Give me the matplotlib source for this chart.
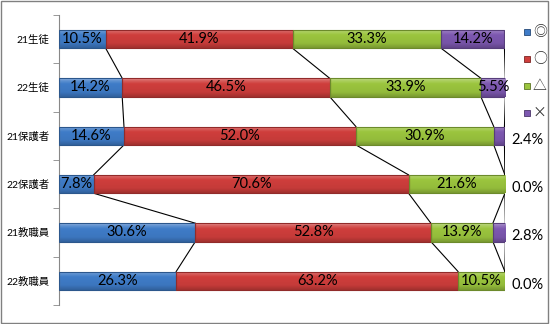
import numpy as np
import matplotlib.pyplot as plt
import matplotlib.colors as mcolors
from matplotlib.patches import Rectangle

plt.rcParams['font.family'] = ['Lato', 'Noto Sans CJK JP', 'DejaVu Sans']

groups = ['21生徒', '22生徒', '21保護者', '22保護者', '21教職員', '22教職員']
series = ['◎', '○', '△', '×']
double_circle = [10.5, 14.2, 14.6, 7.8, 30.6, 26.3]
circle = [41.9, 46.5, 52.0, 70.6, 52.8, 63.2]
triangle = [33.3, 33.9, 30.9, 21.6, 13.9, 10.5]
cross = [14.2, 5.5, 2.4, 0.0, 2.8, 0.0]
colors = ['#3f7cc8', '#cf3e3c', '#9bc53e', '#7d58b0']

values = np.array([double_circle, circle, triangle, cross]).T
cum = np.cumsum(values, axis=1)
bar_h = 0.38


def shade(c, f):
    rgb = np.array(mcolors.to_rgb(c))
    if f > 1:
        return tuple(rgb + (1 - rgb) * (f - 1))
    return tuple(rgb * f)


def gradient_bar(ax, left, y, width, color):
    # glossy fill: light top edge, base colour in the middle, darker bottom
    stops = [0.0, 0.12, 0.3, 0.75, 1.0]
    facs = [1.45, 1.18, 1.0, 0.95, 0.78]
    t = np.linspace(0, 1, 40)
    f = np.interp(t, stops, facs)
    img = np.array([[shade(color, v)] for v in f])
    rect = Rectangle((left, y - bar_h / 2), width, bar_h,
                     facecolor='none', edgecolor=shade(color, 0.7), lw=0.8, zorder=3)
    ax.add_patch(rect)
    im = ax.imshow(img, extent=[left, left + width, y + bar_h / 2, y - bar_h / 2],
                   aspect='auto', interpolation='bilinear', zorder=2)
    im.set_clip_path(rect)


fig = plt.figure(figsize=(5.5, 3.24), dpi=100)
ax = fig.add_axes([0.107, 0.059, 0.811, 0.895])

for i in range(len(groups)):
    left = 0
    for k in range(len(series)):
        w = values[i, k]
        if w > 0:
            gradient_bar(ax, left, i, w, colors[k])
        if w >= 4:
            ax.text(left + w / 2, i, f'{w:.1f}%', ha='center', va='center',
                    fontsize=10.5, color='black', zorder=5)
        elif k == 3:
            ax.text(101.5, i + 0.08, f'{w:.1f}%', ha='left', va='center',
                    fontsize=10.5, color='black', clip_on=False, zorder=5)
        left += w

# series lines between neighbouring bars
for i in range(len(groups) - 1):
    for k in range(len(series)):
        ax.plot([cum[i, k], cum[i + 1, k]], [i + bar_h / 2, i + 1 - bar_h / 2],
                color='black', lw=0.8, zorder=1)

ax.set_xlim(0, 100)
ax.set_ylim(len(groups) - 0.5, -0.5)
ax.set_yticks(range(len(groups)))
ax.set_yticklabels(groups, fontsize=7.5)
ax.set_yticks(np.arange(-0.5, len(groups), 1), minor=True)
ax.tick_params(axis='y', which='major', length=0, pad=7)
ax.tick_params(axis='y', which='minor', length=4, color='#888888')
ax.set_xticks([])
for s in ['top', 'right', 'bottom']:
    ax.spines[s].set_visible(False)
ax.spines['left'].set_color('#888888')

# legend on the right
for j, (name, c) in enumerate(zip(series, colors)):
    yy = 1 - (32 + 27 * j) / 324
    fig.patches.append(Rectangle((524 / 550, yy - 3 / 324), 6 / 550, 6 / 324,
                                 transform=fig.transFigure, facecolor=c,
                                 edgecolor=shade(c, 0.6), lw=0.6))
    fig.text(533 / 550, yy, name, fontsize=10, va='center', ha='left',
             family=['Noto Sans CJK JP', 'DejaVu Sans'], color='#333333')

fig.patches.append(Rectangle((0.002, 0.003), 0.995, 0.993, transform=fig.transFigure,
                             facecolor='none', edgecolor='#808080', lw=1))

fig.savefig('out.png', dpi=100)
